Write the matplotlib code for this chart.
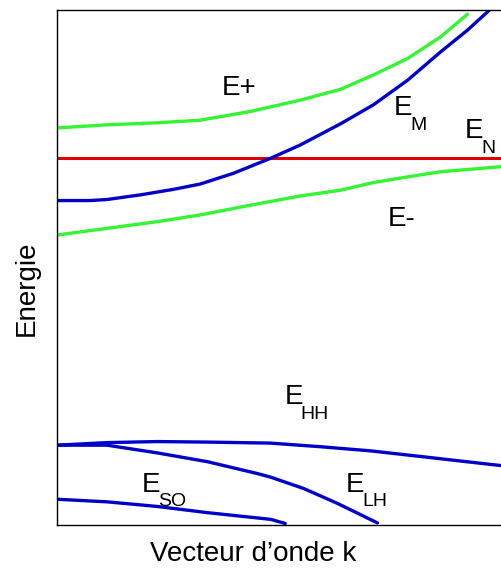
import numpy as np
import matplotlib.pyplot as plt

# x: Vecteur d'onde k (0..1), y: Energie (0..1)
en_k = [0.0, 1.0]
en_e = [0.712, 0.712]

em_k = [0.0, 0.074, 0.112, 0.187, 0.263, 0.321, 0.396, 0.479, 0.546, 0.636,
        0.710, 0.787, 0.861, 0.921, 0.969]
em_e = [0.630, 0.630, 0.632, 0.641, 0.652, 0.662, 0.683, 0.712, 0.738, 0.779,
        0.816, 0.864, 0.919, 0.961, 0.999]

ep_k = [0.0, 0.112, 0.225, 0.321, 0.434, 0.546, 0.636, 0.710, 0.787, 0.861, 0.921]
ep_e = [0.771, 0.777, 0.781, 0.786, 0.803, 0.825, 0.846, 0.874, 0.906, 0.948, 0.992]

emoins_k = [0.0, 0.112, 0.225, 0.321, 0.434, 0.546, 0.636, 0.710, 0.787, 0.861, 1.0]
emoins_e = [0.563, 0.576, 0.589, 0.602, 0.621, 0.639, 0.650, 0.665, 0.676, 0.686, 0.696]

hh_k = [0.0, 0.112, 0.225, 0.337, 0.479, 0.591, 0.703, 0.816, 0.928, 1.0]
hh_e = [0.155, 0.160, 0.162, 0.161, 0.159, 0.152, 0.144, 0.133, 0.122, 0.115]

lh_k = [0.0, 0.112, 0.225, 0.337, 0.449, 0.479, 0.553, 0.629, 0.719]
lh_e = [0.155, 0.155, 0.140, 0.123, 0.100, 0.093, 0.071, 0.042, 0.004]

so_k = [0.0, 0.112, 0.225, 0.337, 0.479, 0.512]
so_e = [0.050, 0.045, 0.036, 0.024, 0.011, 0.003]

blue = '#0000c8'
green = '#33f533'
red = '#dd0000'

plt.rcParams['font.family'] = ['Liberation Sans', 'DejaVu Sans']

fig = plt.figure(figsize=(5.02, 5.69), dpi=100)
ax = fig.add_axes([57 / 502, 44 / 569, 448 / 502, 515 / 569])

kw = dict(lw=2.4, solid_joinstyle='round', solid_capstyle='round')
ax.plot(en_k, en_e, color=red, lw=2.2)
ax.plot(ep_k, ep_e, color=green, **kw)
ax.plot(emoins_k, emoins_e, color=green, **kw)
ax.plot(em_k, em_e, color=blue, **kw)
ax.plot(hh_k, hh_e, color=blue, **kw)
ax.plot(lh_k, lh_e, color=blue, **kw)
ax.plot(so_k, so_e, color=blue, **kw)

ax.set_xlim(0, 1.005)
ax.set_ylim(0, 1)
ax.set_xticks([])
ax.set_yticks([])
for s in ax.spines.values():
    s.set_linewidth(1.0)

fs = 20
sfs = 14


def label(x, y, main, sub=None):
    ax.text(x, y, main, fontsize=fs, ha='left', va='baseline')
    if sub:
        ax.text(x + 0.037, y - 0.029, sub, fontsize=sfs, ha='left',
                va='baseline')


label(0.37, 0.835, 'E+')
label(0.755, 0.796, 'E', 'M')
label(0.915, 0.752, 'E', 'N')
label(0.742, 0.581, 'E-')
label(0.51, 0.235, 'E', 'HH')
label(0.19, 0.065, 'E', 'SO')
label(0.648, 0.065, 'E', 'LH')

ax.set_xlabel('Vecteur d’onde k', fontsize=fs)
ax.set_ylabel('Energie', fontsize=fs)
ax.xaxis.set_label_coords(0.4375, -0.031)
ax.yaxis.set_label_coords(-0.038, 0.46)

fig.savefig('out.png', dpi=100)
